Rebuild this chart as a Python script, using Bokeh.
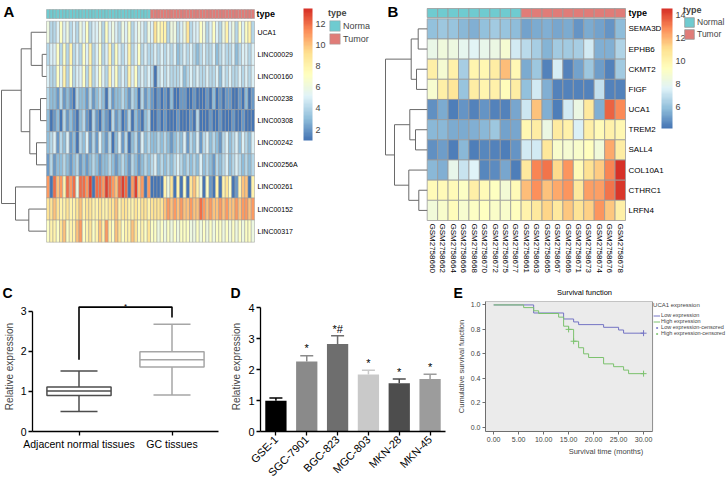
import numpy as np
from math import pi
from bokeh.plotting import figure
from bokeh.models import (Range1d, FactorRange, ColumnDataSource, LinearColorMapper, ColorBar,
                          FixedTicker, Legend, LegendItem, Whisker, TeeHead,
                          NumeralTickFormatter)
from bokeh.layouts import row, column
from bokeh.transform import dodge
from bokeh.core.properties import value
from bokeh.embed import file_html
from bokeh.resources import INLINE

FONT = "Liberation Sans"

# ====================== DATA ======================
type_labels = ["Normal", "Tumor"]
type_colors = ["#6FCBD0", "#E07C78"]

# ---- Panel A: lncRNA heatmap (values 1..13, one hex digit per sample) ----
a_genes = ["UCA1", "LINC00029", "LINC00160", "LINC00238", "LINC00308",
           "LINC00242", "LINC00256A", "LINC00261", "LINC00152", "LINC00317"]
a_normal = [
    "64457564" "54657455" "64756546" "57456546",
    "45574748" "45475845" "74584754" "58457454",
    "54475847" "45574845" "75485745" "48574545",
    "43324232" "14332423" "43142334" "32431423",
    "31231423" "21342142" "13214231" "24132134",
    "34524352" "31435242" "53241352" "41342534",
    "24233432" "34232343" "23343234" "32432343",
    "b1cab8cb" "c6ccbd1c" "cbdcbacd" "c1bdab1b",
    "99a98898" "89a89988" "98899a89" "98898998",
    "78879a78" "8ab78978" "a8b87a97" "88a97879",
]
a_tumor = [
    "59788466" "45694557" "64575468" "56475784",
    "45454545" "34545434" "54453454" "45345545",
    "41454544" "45345454" "45445354" "54454545",
    "21212131" "12211211" "12131212" "21121312",
    "11212111" "21112141" "11211211" "12112111",
    "33434323" "43524352" "45343245" "34535435",
    "45343434" "54343435" "34324345" "34543434",
    "11118691" "81719a86" "17218189" "7128aa18",
    "9999abab" "abaabaac" "babaabab" "aababbab",
    "77676767" "67776676" "76767767" "67676776",
]
a_color_range = (0.96, 13.44)
a_color_ticks = [2, 4, 6, 8, 10, 12]
# (left node, right node, merge height); leaves 0..9, new nodes numbered from 10
a_merges = [(1, 2, 4.3), (0, 10, 15.3), (3, 4, 6.0), (5, 6, 10.0), (12, 13, 16.7),
            (11, 14, 25.3), (8, 9, 17.7), (7, 16, 31.0), (15, 17, 45.0)]

# ---- Panel B: gene heatmap ----
b_genes = ["SEMA3D", "EPHB6", "CKMT2", "FIGF", "UCA1", "TREM2", "SALL4",
           "COL10A1", "CTHRC1", "LRFN4"]
b_samples_normal = ["GSM2758660", "GSM2758662", "GSM2758664", "GSM2758666", "GSM2758668",
                    "GSM2758670", "GSM2758672", "GSM2758675", "GSM2758677"]
b_samples_tumor = ["GSM2758661", "GSM2758663", "GSM2758665", "GSM2758667", "GSM2758669",
                   "GSM2758671", "GSM2758673", "GSM2758674", "GSM2758676", "GSM2758678"]
b_normal = [
    [6.0, 6.2, 6.1, 5.8, 5.6, 6.0, 6.3, 6.1, 5.9],
    [8.2, 8.5, 8.4, 8.0, 7.8, 8.1, 8.3, 8.8, 7.4],
    [10.3, 8.8, 10.2, 6.4, 9.9, 9.8, 10.4, 11.8, 9.7],
    [8.9, 10.3, 10.8, 6.1, 10.4, 9.9, 10.2, 9.5, 10.4],
    [4.9, 5.5, 4.4, 5.0, 4.5, 5.0, 4.5, 4.5, 5.4],
    [5.8, 5.8, 5.5, 5.5, 5.6, 5.8, 6.2, 5.3, 5.4],
    [4.9, 5.2, 4.4, 5.8, 4.4, 4.6, 4.5, 4.4, 5.0],
    [5.8, 5.6, 8.1, 7.1, 7.7, 4.6, 4.8, 5.4, 4.4],
    [9.6, 9.6, 9.6, 9.2, 10.3, 9.6, 9.3, 8.7, 9.6],
    [8.6, 9.0, 9.5, 8.9, 9.2, 9.3, 9.1, 9.0, 9.4],
]
b_tumor = [
    [5.3, 5.5, 5.6, 5.4, 5.5, 5.0, 5.5, 5.3, 5.0, 5.9],
    [6.8, 6.4, 5.7, 6.3, 6.3, 6.4, 7.3, 5.6, 5.6, 6.6],
    [5.5, 6.2, 4.5, 7.5, 4.5, 5.3, 6.2, 5.2, 4.5, 6.3],
    [6.0, 7.4, 5.6, 4.5, 4.5, 4.5, 4.5, 7.0, 4.5, 4.5],
    [7.2, 11.7, 5.6, 4.4, 7.3, 8.3, 10.6, 5.6, 13.6, 12.9],
    [9.8, 10.4, 8.3, 10.5, 10.2, 7.6, 10.3, 9.6, 10.2, 9.8],
    [7.3, 7.4, 10.7, 9.0, 8.8, 9.0, 9.4, 8.6, 12.2, 10.4],
    [10.6, 13.0, 13.3, 11.2, 12.6, 9.6, 11.0, 11.5, 13.0, 14.5],
    [11.8, 12.7, 11.7, 12.2, 12.6, 10.6, 12.4, 12.4, 13.3, 14.4],
    [10.0, 10.6, 11.3, 10.6, 11.6, 10.9, 11.4, 12.6, 11.6, 10.3],
]
b_color_range = (4.18, 14.57)
b_color_ticks = [6, 8, 10, 12, 14]
b_merges = [(0, 1, 9.0), (2, 3, 10.7), (10, 11, 16.0), (5, 6, 11.7), (4, 13, 17.4),
            (8, 9, 8.4), (7, 15, 18.4), (14, 16, 32.7), (12, 17, 41.7)]

# ---- Panel C: box plot ----
c_groups = ["Adjacent normal tissues", "GC tissues"]
c_lower = [0.50, 0.91]
c_q1 = [0.90, 1.61]
c_median = [1.01, 1.79]
c_q3 = [1.11, 1.99]
c_upper = [1.51, 2.67]
c_colors = ["#4d4d4d", "#a6a6a6"]
c_bracket_y = [1.79, 3.10, 3.10, 2.84]
c_star_y = 3.226

# ---- Panel D: bar chart ----
d_lines = ["GSE-1", "SGC-7901", "BGC-823", "MGC-803", "MKN-28", "MKN-45"]
d_mean = [0.99, 2.26, 2.83, 1.84, 1.56, 1.70]
d_err = [0.09, 0.19, 0.26, 0.14, 0.14, 0.15]
d_marks = ["", "*", "*#", "*", "*", "*"]
d_colors = ["#000000", "#8a8a8a", "#6e6e6e", "#c9c9c9", "#4d4d4d", "#9c9c9c"]

# ---- Panel E: Kaplan-Meier ----
e_title = "Survival function"
e_low_t = [0, 8, 14, 16, 17, 22, 25, 26, 30]
e_low_s = [1.0, 0.934, 0.885, 0.861, 0.839, 0.817, 0.795, 0.769, 0.769]
e_high_t = [0, 6, 8, 9, 13, 14, 15, 16, 17, 18, 19, 22, 24, 26, 27, 30]
e_high_s = [1.0, 0.978, 0.952, 0.930, 0.900, 0.826, 0.800, 0.703, 0.650, 0.600,
            0.570, 0.518, 0.495, 0.467, 0.438, 0.438]
e_low_cens_t = [30]
e_low_cens_s = [0.769]
e_high_cens_t = [15, 16, 30]
e_high_cens_s = [0.800, 0.703, 0.438]
e_labels = ["Low expression", "High expression", "Low expression-censored",
            "High expression-censored"]
e_x_ticks = [0, 5, 10, 15, 20, 25, 30]
e_y_ticks = [0, 0.2, 0.4, 0.6, 0.8, 1.0]
e_x_end = 31.8                     # right edge of the grey plotting area (months)
e_y_span = (-0.035, 1.028)
LOW_C = "#7474c4"
HIGH_C = "#7cc26e"

# ====================== HELPERS ======================
def decode(s):
    return [int(ch, 16) for ch in s]


def make_palette(cols, n):
    rgb = np.array([[int(c[i:i + 2], 16) for i in (1, 3, 5)] for c in cols], float)
    out = []
    for v in np.linspace(0, len(cols) - 1, n):
        i = min(int(v), len(cols) - 2)
        f = v - i
        c = rgb[i] * (1 - f) + rgb[i + 1] * f
        out.append("#%02x%02x%02x" % tuple(int(round(x)) for x in c))
    return out


PALETTE = make_palette(["#4575B4", "#91BFDB", "#E0F3F8", "#FFFFBF",
                        "#FEE090", "#FC8D59", "#D73027"], 100)

TOP_H = 300          # top row (also carries the letters / title of the lower panels)
BOT_H = 185
BORDER = "#9a9a9a"


def heat_figure(fig_left, width, hl, hr, ht, hb, ncols, nrows):
    cw = (hr - hl) / ncols
    rh = (hb - ht) / nrows
    X = lambda px: (px - hl) / cw
    Y = lambda py: (py - ht) / rh
    p = figure(width=width, height=TOP_H,
               x_range=Range1d(X(fig_left), X(fig_left + width)),
               y_range=Range1d(Y(TOP_H), Y(0)),
               x_axis_location=None, y_axis_location=None,
               output_backend="svg", toolbar_location=None, min_border=0,
               outline_line_color=None, background_fill_color="white")
    p.grid.visible = False
    return p, X, Y, cw


def draw_heat(p, matrix, types, mapper, lw, ann_y0, ann_y1):
    xs, ys, vs = [], [], []
    for r, rowv in enumerate(matrix):
        for c, v in enumerate(rowv):
            xs.append(c + 0.5)
            ys.append(r + 0.5)
            vs.append(v)
    src = ColumnDataSource(dict(x=xs, y=ys, v=vs))
    p.rect("x", "y", 1, 1, source=src, fill_color={"field": "v", "transform": mapper},
           line_color=BORDER, line_width=lw)
    rends = []
    for t in range(len(type_labels)):
        cols = [c + 0.5 for c, tt in enumerate(types) if tt == t]
        rends.append(p.rect(x=cols, y=[(ann_y0 + ann_y1) / 2] * len(cols), width=1,
                            height=ann_y1 - ann_y0, fill_color=type_colors[t],
                            line_color=BORDER, line_width=lw))
    return rends


def draw_dendro(p, merges, nleaves, scale):
    pos = {i: (0.0, i + 0.5) for i in range(nleaves)}
    xs, ys = [], []
    for k, (l, r, h) in enumerate(merges):
        hl_, yl = pos[l]
        hr_, yr = pos[r]
        xs.append([-hl_ * scale, -h * scale, -h * scale, -hr_ * scale])
        ys.append([yl, yl, yr, yr])
        pos[nleaves + k] = (h, (yl + yr) / 2)
    p.multi_line(xs, ys, line_color="#6a6a6a", line_width=1.0)


def type_legend(p, rends, loc, gsize, fsize):
    lg = Legend(items=[LegendItem(label=type_labels[i], renderers=[rends[i]])
                       for i in range(len(type_labels))],
                location=loc, title="type", title_text_font_style="bold",
                title_text_font_size="9px", title_text_font=FONT, title_standoff=1,
                label_text_font=FONT, label_text_font_size=fsize,
                glyph_width=gsize, glyph_height=gsize, label_height=gsize,
                spacing=0, padding=0, margin=0, label_standoff=2,
                border_line_color=None, background_fill_alpha=0)
    p.add_layout(lg, "center")


def color_bar(p, mapper, ticks, loc, w, h):
    cb = ColorBar(color_mapper=mapper, location=loc, width=w, height=h,
                  orientation="vertical", padding=0, margin=0,
                  ticker=FixedTicker(ticks=ticks), major_label_text_font_size="9px",
                  major_label_text_font=FONT, major_tick_line_color=None,
                  minor_tick_line_color=None, bar_line_color=None,
                  border_line_color=None, background_fill_alpha=0, label_standoff=3)
    p.add_layout(cb, "center")


def txt(p, x, y, t, size, bold=False, align="left", baseline="middle", angle=0.0,
        color="#000000"):
    p.text(x=x, y=y, text=t, text_font=value(FONT), text_font_size=size,
           text_font_style="bold" if bold else "normal", text_align=align,
           text_baseline=baseline, angle=angle, text_color=color)


# ====================== PANEL A ======================
A_LEFT, A_W = 0, 370
a_matrix = [decode(n) + decode(t) for n, t in zip(a_normal, a_tumor)]
a_types = [0] * len(a_normal[0]) + [1] * len(a_tumor[0])
pA, XA, YA, cwA = heat_figure(A_LEFT, A_W, 46, 254, 20.7, 241.7, len(a_types), len(a_genes))
mapA = LinearColorMapper(palette=PALETTE, low=a_color_range[0], high=a_color_range[1])
rA = draw_heat(pA, a_matrix, a_types, mapA, 0.5, YA(9), YA(18))
draw_dendro(pA, a_merges, len(a_genes), 1.0 / cwA)
txt(pA, [XA(257)] * len(a_genes), [i + 0.5 for i in range(len(a_genes))], a_genes, "7px")
txt(pA, [XA(256)], [YA(13.5)], ["type"], "9px", bold=True)
color_bar(pA, mapA, a_color_ticks, (303 - A_LEFT, TOP_H - 140), 9, 132)
type_legend(pA, rA, (328 - A_LEFT, TOP_H - 45), 13, "9px")
# panel letters: A for this panel, C and D for the lower panels under this strip
txt(pA, [XA(3)], [YA(2)], ["A"], "15px", bold=True, baseline="top")
txt(pA, [XA(2), XA(230)], [YA(284), YA(284)], ["C", "D"], "14px",
    bold=True, baseline="top")

# ====================== PANEL B ======================
B_LEFT, B_W = 370, 356
b_matrix = [n + t for n, t in zip(b_normal, b_tumor)]
b_samples = b_samples_normal + b_samples_tumor
b_types = [0] * len(b_samples_normal) + [1] * len(b_samples_tumor)
pB, XB, YB, cwB = heat_figure(B_LEFT, B_W, 426.7, 625, 18.3, 220, len(b_samples), len(b_genes))
mapB = LinearColorMapper(palette=PALETTE, low=b_color_range[0], high=b_color_range[1])
rB = draw_heat(pB, b_matrix, b_types, mapB, 0.8, YB(8), YB(17))
draw_dendro(pB, b_merges, len(b_genes), 1.0 / cwB)
txt(pB, [XB(628)] * len(b_genes), [i + 0.5 for i in range(len(b_genes))], b_genes, "8px")
txt(pB, [c + 0.5 for c in range(len(b_samples))], [YB(223)] * len(b_samples), b_samples,
    "8px", angle=-pi / 2)
txt(pB, [XB(628)], [YB(12.5)], ["type"], "9px", bold=True)
color_bar(pB, mapB, b_color_ticks, (661 - B_LEFT, TOP_H - 128), 11, 120)
type_legend(pB, rB, (683 - B_LEFT, TOP_H - 40), 12, "8.5px")
txt(pB, [XB(387)], [YB(2)], ["B"], "15px", bold=True, baseline="top")
txt(pB, [XB(453)], [YB(284)], ["E"], "14px", bold=True, baseline="top")
txt(pB, [XB(584)], [YB(292)], [e_title], "7.5px", align="center")


def style_axes(p, size):
    p.grid.visible = False
    p.outline_line_color = None
    for ax in p.axis:
        ax.axis_line_color = "black"
        ax.axis_line_width = 1.3
        ax.major_tick_line_color = "black"
        ax.major_tick_line_width = 1.3
        ax.major_tick_out = 4
        ax.major_tick_in = 0
        ax.minor_tick_line_color = None
        ax.major_label_text_font = FONT
        ax.major_label_text_font_size = size
        ax.major_label_text_color = "black"
        ax.axis_label_text_font = FONT
        ax.axis_label_text_font_size = "10px"
        ax.axis_label_text_font_style = "normal"
        ax.axis_label_standoff = 3
        ax.major_label_standoff = 2


# ====================== PANEL C ======================
pC = figure(width=228, height=BOT_H, x_range=FactorRange(factors=c_groups),
            y_range=Range1d(0, 3.24), output_backend="svg", toolbar_location=None,
            min_border_left=27, min_border_right=10, min_border_top=0, min_border_bottom=50)
style_axes(pC, "10.5px")
pC.yaxis.bounds = (0, 3)
pC.yaxis.ticker = FixedTicker(ticks=[0, 1, 2, 3])
pC.yaxis.axis_label = "Relative expression"
for i, g in enumerate(c_groups):
    ws = ColumnDataSource(dict(base=[g], lower=[c_lower[i]], upper=[c_upper[i]]))
    pC.add_layout(Whisker(source=ws, base="base", lower="lower", upper="upper",
                          dimension="height", line_color=c_colors[i], line_width=1.5,
                          upper_head=TeeHead(size=37, line_color=c_colors[i], line_width=1.5),
                          lower_head=TeeHead(size=37, line_color=c_colors[i], line_width=1.5),
                          level="underlay"))
srcC = ColumnDataSource(dict(g=c_groups, q1=c_q1, q3=c_q3, med=c_median, col=c_colors))
pC.vbar(x="g", bottom="q1", top="q3", width=0.69, fill_color="white", line_color="col",
        line_width=1.5, source=srcC)
pC.segment(x0=dodge("g", -0.345, range=pC.x_range), y0="med",
           x1=dodge("g", 0.345, range=pC.x_range), y1="med", line_color="col",
           line_width=1.5, source=srcC)
pC.line(x=[c_groups[0], c_groups[0], c_groups[1], c_groups[1]], y=c_bracket_y,
        line_color="black", line_width=1.6)
starC = ColumnDataSource(dict(g=[c_groups[0]], y=[c_star_y], t=["*"]))
pC.text(x=dodge("g", 0.5, range=pC.x_range), y="y", text="t", source=starC,
        text_font=value(FONT), text_font_size="8px", text_align="center",
        text_baseline="top", text_color="black")

# ====================== PANEL D ======================
pD = figure(width=225, height=BOT_H, x_range=FactorRange(factors=d_lines),
            y_range=Range1d(0, 4.2), output_backend="svg", toolbar_location=None,
            min_border_left=24, min_border_right=8, min_border_top=1, min_border_bottom=49)
style_axes(pD, "11px")
pD.yaxis.bounds = (0, 4)
pD.yaxis.ticker = FixedTicker(ticks=[0, 1, 2, 3, 4])
pD.yaxis.axis_label = "Relative expression"
pD.xaxis.major_label_orientation = pi / 4
d_top = [m + e for m, e in zip(d_mean, d_err)]
srcD = ColumnDataSource(dict(x=d_lines, m=d_mean, col=d_colors, top=d_top,
                             sy=[t + 0.04 for t in d_top], mark=d_marks))
for i, g in enumerate(d_lines):
    ws = ColumnDataSource(dict(base=[g], lower=[d_mean[i]], upper=[d_top[i]]))
    pD.add_layout(Whisker(source=ws, base="base", lower="lower", upper="upper",
                          dimension="height", line_color=d_colors[i], line_width=1.5,
                          upper_head=TeeHead(size=13, line_color=d_colors[i], line_width=1.5),
                          lower_head=None))
pD.vbar(x="x", top="m", width=0.69, fill_color="col", line_color=None, source=srcD)
pD.text(x="x", y="sy", text="mark", source=srcD, text_font=value(FONT),
        text_font_size="11px", text_align="center", text_baseline="bottom",
        text_color="black")

# ====================== PANEL E ======================
E_W = 273
E_BL, E_BB = 28, 24
frame_w = E_W - E_BL
x0_px, x30_px = 8.3, 160.7               # positions of 0 and 30 months inside the frame
upp = (e_x_ticks[-1] - e_x_ticks[0]) / (x30_px - x0_px)
ex_start = -x0_px * upp
ex_end = ex_start + frame_w * upp
pE = figure(width=E_W, height=BOT_H, x_range=Range1d(ex_start, ex_end),
            y_range=Range1d(*e_y_span),
            output_backend="svg", toolbar_location=None,
            min_border_left=E_BL, min_border_right=0, min_border_top=0,
            min_border_bottom=E_BB, outline_line_color=None)
pE.grid.visible = False
for ax in pE.axis:
    ax.axis_line_color = "#6e6e6e"
    ax.major_tick_line_color = "#6e6e6e"
    ax.major_tick_out = 3
    ax.major_tick_in = 0
    ax.minor_tick_line_color = None
    ax.major_label_text_font = FONT
    ax.major_label_text_font_size = "7px"
    ax.major_label_standoff = 2
    ax.axis_label_text_font = FONT
    ax.axis_label_text_font_size = "7.5px"
    ax.axis_label_text_font_style = "normal"
    ax.axis_label_standoff = 2
pE.xaxis.bounds = (ex_start, e_x_end)
pE.xaxis.ticker = FixedTicker(ticks=e_x_ticks)
pE.xaxis.formatter = NumeralTickFormatter(format="0.00")
pE.yaxis.ticker = FixedTicker(ticks=e_y_ticks)
pE.yaxis.formatter = NumeralTickFormatter(format="0.0")
pE.xaxis.axis_label = "Survival time (months)"
pE.yaxis.axis_label = "Cumulative survival function"
pE.quad(left=[ex_start], right=[e_x_end], bottom=[e_y_span[0]], top=[e_y_span[1]],
        fill_color="#ebebeb", line_color="#8c8c8c", line_width=1)
r_low = pE.step(e_low_t, e_low_s, mode="after", line_color=LOW_C, line_width=1)
r_high = pE.step(e_high_t, e_high_s, mode="after", line_color=HIGH_C, line_width=1)
r_lc = pE.scatter(e_low_cens_t, e_low_cens_s, marker="cross", size=6, line_color=LOW_C)
r_hc = pE.scatter(e_high_cens_t, e_high_cens_s, marker="cross", size=6, line_color=HIGH_C)
legE = Legend(items=[LegendItem(label=e_labels[0], renderers=[r_low]),
                     LegendItem(label=e_labels[1], renderers=[r_high]),
                     LegendItem(label=e_labels[2], renderers=[r_lc]),
                     LegendItem(label=e_labels[3], renderers=[r_hc])],
              location="top_right", title="UCA1 expression",
              title_text_font=FONT,
              title_text_font_size="6px", title_text_font_style="normal", title_standoff=4,
              label_text_font=FONT, label_text_font_size="5.5px", glyph_width=7,
              glyph_height=5, label_height=5, spacing=0, padding=0, margin=1,
              label_standoff=1, border_line_color=None, background_fill_alpha=0)
pE.add_layout(legE, "center")

layout = column(row(pA, pB), row(pC, pD, pE))
open("out.html", "w").write(file_html(layout, INLINE))
